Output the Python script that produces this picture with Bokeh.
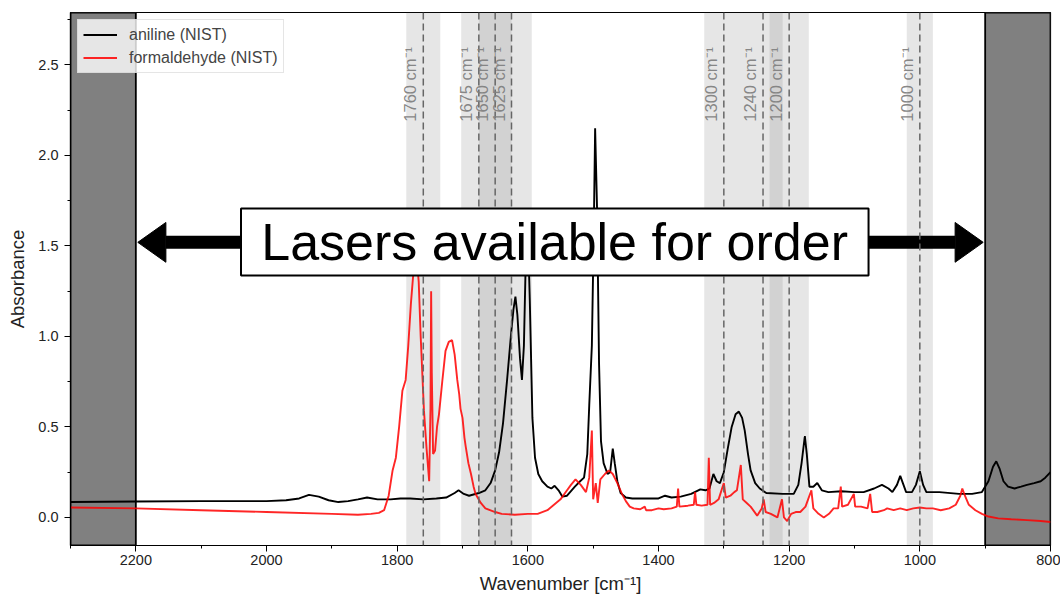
import math
from bokeh.plotting import figure
from bokeh.models import (Range1d, FixedTicker, PrintfTickFormatter, BoxAnnotation, Span,
                          Label, Legend, LegendItem)
from bokeh.embed import file_html
from bokeh.resources import INLINE

# ---------------- data ----------------
aniline_wn = [2300, 2200, 2100, 2000, 1970, 1950, 1935, 1920, 1905, 1890, 1875, 1860, 1846, 1830,
              1810, 1795, 1780, 1760, 1740, 1725, 1712, 1706, 1698, 1690, 1675, 1665, 1657, 1650,
              1644, 1638, 1632, 1626, 1622, 1619, 1616, 1612, 1609, 1606, 1603, 1600, 1597, 1593,
              1589, 1584, 1578, 1570, 1564, 1559, 1553, 1547, 1540, 1534, 1528, 1520, 1514, 1509,
              1506, 1502, 1499, 1497, 1494, 1491, 1488, 1484, 1478, 1474, 1470, 1467, 1463, 1458,
              1450, 1440, 1420, 1400, 1390, 1380, 1366, 1350, 1336, 1328, 1322, 1316, 1311, 1306,
              1300, 1294, 1288, 1282, 1277, 1272, 1268, 1263, 1259, 1252, 1245, 1235, 1210, 1193,
              1186, 1181, 1176, 1173, 1169, 1163, 1157, 1150, 1140, 1120, 1100, 1086, 1070, 1058,
              1048, 1042, 1035, 1030, 1025, 1021, 1012, 1006, 1000, 995, 990, 970, 940, 920, 905,
              895, 888, 883, 878, 872, 865, 855, 845, 836, 825, 815, 808, 800]
aniline_abs = [0.085, 0.088, 0.09, 0.09, 0.095, 0.105, 0.125, 0.115, 0.095, 0.085, 0.09, 0.1, 0.11, 0.1,
               0.1, 0.105, 0.105, 0.1, 0.105, 0.11, 0.135, 0.15, 0.13, 0.12, 0.135, 0.15, 0.19, 0.26,
               0.36, 0.52, 0.75, 1.0, 1.15, 1.22, 1.12, 0.88, 0.76, 0.95, 1.45, 1.6, 1.2, 0.55,
               0.33, 0.24, 0.2, 0.17, 0.16, 0.175, 0.15, 0.115, 0.12, 0.145, 0.17, 0.2, 0.22, 0.35,
               0.62, 0.95, 1.6, 2.15, 1.7, 0.85, 0.42, 0.3, 0.24, 0.25, 0.38, 0.3, 0.2, 0.135,
               0.11, 0.105, 0.105, 0.105, 0.12, 0.11, 0.115, 0.13, 0.155, 0.15, 0.16, 0.24, 0.2, 0.19,
               0.25, 0.38, 0.5, 0.57, 0.585, 0.55, 0.48, 0.35, 0.26, 0.19, 0.16, 0.135, 0.13, 0.13,
               0.18, 0.3, 0.45, 0.35, 0.17, 0.17, 0.19, 0.15, 0.14, 0.145, 0.14, 0.14, 0.16, 0.18,
               0.16, 0.14, 0.18, 0.23, 0.18, 0.14, 0.14, 0.18, 0.255, 0.18, 0.14, 0.14, 0.13, 0.13, 0.14,
               0.2, 0.28, 0.31, 0.27, 0.2, 0.17, 0.16, 0.17, 0.18, 0.19, 0.2, 0.22, 0.25]

formal_wn = [2300, 2200, 2100, 2000, 1900, 1860, 1840, 1828, 1820, 1813, 1807, 1802, 1797, 1792,
             1787, 1783, 1779, 1775, 1771, 1767, 1764, 1759, 1755, 1751, 1749, 1748, 1747, 1745,
             1742, 1739, 1736, 1731, 1726, 1721, 1716, 1712, 1708, 1705, 1703, 1700, 1697, 1695,
             1691, 1687, 1683, 1680, 1672, 1665, 1650, 1640, 1620, 1600, 1585, 1570, 1560, 1550,
             1540, 1534, 1527, 1519, 1511, 1506, 1502, 1500, 1496, 1493, 1489, 1482, 1476, 1470,
             1463, 1456, 1450, 1444, 1438, 1428, 1421, 1419, 1410, 1400, 1392, 1380, 1372, 1370,
             1368, 1355, 1346, 1344, 1342, 1334, 1325, 1323, 1321, 1315, 1308, 1300, 1297, 1290,
             1284, 1280, 1274, 1271, 1265, 1259, 1249, 1242, 1239, 1236, 1228, 1218, 1211, 1208,
             1203, 1197, 1190, 1183, 1175, 1166, 1163, 1155, 1147, 1139, 1132, 1125, 1121, 1119,
             1110, 1101, 1099, 1090, 1080, 1076, 1073, 1065, 1055, 1050, 1040, 1030, 1020, 1010,
             1000, 990, 980, 968, 955, 945, 938, 935, 931, 925, 915, 905, 895, 880, 860, 836,
             815, 800]
formal_abs = [0.055, 0.05, 0.04, 0.03, 0.02, 0.015, 0.02, 0.025, 0.04, 0.12, 0.26, 0.33, 0.5, 0.7,
              0.76, 0.95, 1.18, 1.36, 1.48, 1.3, 1.0, 0.59, 0.38, 0.2, 0.6, 1.25, 0.8, 0.35,
              0.37, 0.5, 0.57, 0.75, 0.92, 0.97, 0.98, 0.9, 0.76, 0.68, 0.6, 0.55, 0.44, 0.39,
              0.3, 0.24, 0.17, 0.13, 0.08, 0.05, 0.03, 0.02, 0.015, 0.02, 0.02, 0.04, 0.07, 0.1,
              0.15, 0.18, 0.21, 0.18, 0.14, 0.22, 0.48, 0.1, 0.19, 0.08, 0.21, 0.24, 0.26, 0.24,
              0.19, 0.13, 0.09, 0.06, 0.05, 0.045, 0.06, 0.04, 0.04, 0.05, 0.045, 0.05, 0.06, 0.16,
              0.06, 0.065, 0.07, 0.14, 0.07, 0.065, 0.07, 0.33, 0.07, 0.08, 0.1, 0.19, 0.11, 0.12,
              0.14, 0.15, 0.29, 0.1, 0.08, 0.06, 0.01, 0.05, 0.1, 0.03, 0.02, 0.0, 0.1, 0.0,
              -0.02, 0.02, 0.03, 0.03, 0.06, 0.15, 0.05, 0.02, 0.0, 0.02, 0.05, 0.05, 0.17, 0.06,
              0.07, 0.13, 0.06, 0.06, 0.05, 0.13, 0.03, 0.03, 0.04, 0.05, 0.04, 0.05, 0.04, 0.05,
              0.055, 0.05, 0.05, 0.04, 0.05, 0.07, 0.12, 0.16, 0.12, 0.07, 0.04, 0.02, 0.005, -0.005, -0.01, -0.015,
              -0.02, -0.025]

laser_wn = [1760, 1675, 1650, 1625, 1300, 1240, 1200, 1000]
laser_lo = [1734, 1650, 1625, 1594, 1270, 1210, 1170, 980]
laser_hi = [1786, 1702, 1675, 1650, 1330, 1270, 1230, 1020]

blocked_lo = [2200, 800]
blocked_hi = [2300, 900]

arrow_from = 2197
arrow_to = 903
arrow_y = 1.52
head_len = 43        # in wavenumber units
head_half = 0.11     # in absorbance units

x_major = [2200, 2000, 1800, 1600, 1400, 1200, 1000, 800]
x_minor = [2300, 2100, 1900, 1700, 1500, 1300, 1100, 900]
y_major = [0.0, 0.5, 1.0, 1.5, 2.0, 2.5]
y_minor = [0.25, 0.75, 1.25, 1.75, 2.25, 2.75]

FONT = "Liberation Sans"

p = figure(width=1060, height=598, output_backend="svg", toolbar_location=None,
           x_range=Range1d(2300, 800), y_range=Range1d(-0.155, 2.79),
           min_border_left=70, min_border_right=10, min_border_top=12, min_border_bottom=53)
p.xgrid.visible = False
p.ygrid.visible = False
p.outline_line_color = "black"
p.outline_line_width = 1.2
p.background_fill_color = "white"
p.border_fill_color = "white"

for ax in (p.xaxis[0], p.yaxis[0]):
    ax.axis_line_color = "black"
    ax.axis_line_width = 1.2
    ax.major_tick_line_color = "black"
    ax.minor_tick_line_color = "black"
    ax.major_tick_in = 0
    ax.minor_tick_in = 0
    ax.major_tick_out = 6
    ax.minor_tick_out = 3
    ax.major_label_text_font = FONT
    ax.major_label_text_font_size = "14.5px"
    ax.major_label_text_color = "#222222"
    ax.axis_label_text_font = FONT
    ax.axis_label_text_font_size = "18.5px"
    ax.axis_label_text_font_style = "normal"
    ax.axis_label_text_color = "#222222"

p.xaxis.major_label_standoff = 3
p.xaxis.axis_label_standoff = 5
p.yaxis.major_label_standoff = 6
p.yaxis.axis_label_standoff = 7

p.xaxis.ticker = FixedTicker(ticks=x_major, minor_ticks=x_minor)
p.yaxis.ticker = FixedTicker(ticks=y_major, minor_ticks=y_minor)
p.xaxis.formatter = PrintfTickFormatter(format="%d")
p.yaxis.formatter = PrintfTickFormatter(format="%.1f")
p.xaxis.axis_label = "Wavenumber [cm\u207b\u00b9]"
p.yaxis.axis_label = "Absorbance"

# blocked (dark) regions
for lo, hi in zip(blocked_lo, blocked_hi):
    p.add_layout(BoxAnnotation(left=hi, right=lo, fill_color="#808080", fill_alpha=1.0,
                               line_color="black", line_alpha=1.0, line_width=1.8,
                               level="underlay"))

# laser bands
for lo, hi in zip(laser_lo, laser_hi):
    p.add_layout(BoxAnnotation(left=hi, right=lo, fill_color="#808080", fill_alpha=0.2,
                               line_alpha=0, level="underlay"))

r1 = p.line(aniline_wn, aniline_abs, line_color="black", line_width=1.9)
r2 = p.line(formal_wn, formal_abs, line_color="#ff0000", line_alpha=0.85, line_width=1.9)

for wn in laser_wn:
    p.add_layout(Span(location=wn, dimension="height", line_color="#666666",
                      line_dash="7 4", line_width=1.5))
    p.add_layout(Label(x=wn, y=2.6, text=f"{wn} cm\u207b\u00b9", angle=math.pi / 2,
                       text_align="right", text_baseline="bottom", x_offset=-4,
                       text_font=FONT, text_font_size="16.5px", text_color="#808080",
                       text_alpha=0.95))

# big double arrow (shaft + two heads), computed from the arrow parameters
left_base = arrow_from - head_len
right_base = arrow_to + head_len
p.segment(x0=[left_base], y0=[arrow_y], x1=[right_base], y1=[arrow_y],
          line_color="black", line_width=13)
p.patches(xs=[[arrow_from, left_base, left_base], [arrow_to, right_base, right_base]],
          ys=[[arrow_y, arrow_y + head_half, arrow_y - head_half]] * 2,
          fill_color="black", line_color="black", line_width=1)

# label box on top of the arrow
p.add_layout(BoxAnnotation(left=2039, right=1078.5, bottom=1.337, top=1.707,
                           fill_color="white", fill_alpha=1.0, line_color="black",
                           line_alpha=1.0, line_width=2, level="annotation"))
p.add_layout(Label(x=1559, y=arrow_y, text="Lasers available for order", text_align="center",
                   text_baseline="middle", text_font=FONT, text_font_size="52px",
                   text_color="black"))

legend = Legend(items=[LegendItem(label="aniline (NIST)", renderers=[r1]),
                       LegendItem(label="formaldehyde (NIST)", renderers=[r2])],
                location="top_left", margin=7, padding=5, spacing=4,
                label_height=19, glyph_height=19, glyph_width=34, label_standoff=12,
                label_text_font=FONT, label_text_font_size="16px",
                border_line_color="#cccccc", border_line_width=1,
                background_fill_color="white", background_fill_alpha=0.8)
p.add_layout(legend)

open("out.html", "w").write(file_html(p, INLINE))
